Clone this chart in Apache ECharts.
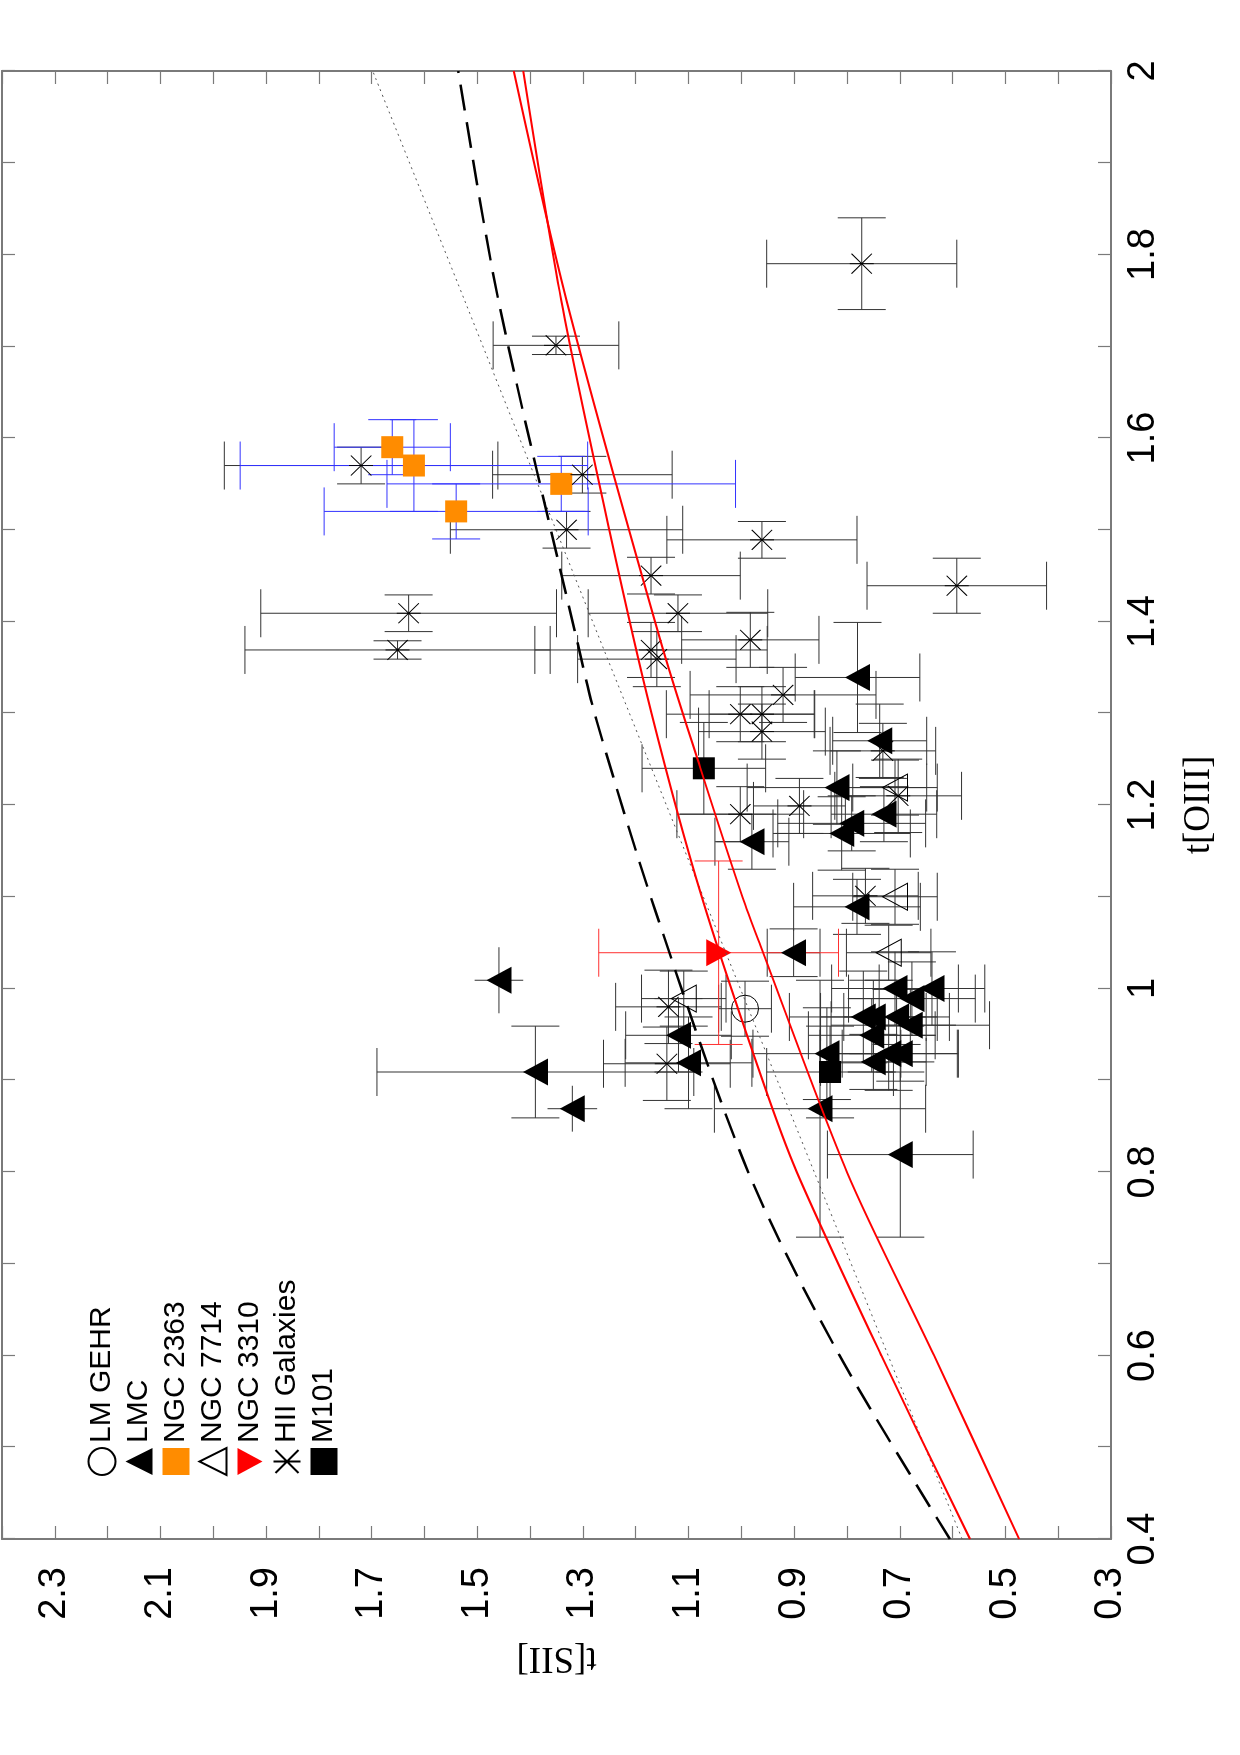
<!DOCTYPE html>
<html>
<head>
<meta charset="utf-8">
<title>t[SII] vs t[OIII]</title>
<script src="https://cdn.jsdelivr.net/npm/echarts@6.0.0/dist/echarts.min.js"></script>
<style>
    html, body { margin: 0; padding: 0; background: #fff; overflow: hidden; width: 1240px; height: 1755px; }
    /* chart is drawn landscape, then turned a quarter to the left */
    #chart { position: absolute; left: 0; top: 0; width: 1755px; height: 1240px;
             transform-origin: 0 0; transform: translate(0, 1755px) rotate(-90deg); }
</style>
</head>
<body>
<div id="chart"></div>
<script>
// tick values
let xTicks  = [0.4, 0.5, 0.6, 0.7, 0.8, 0.9, 1, 1.1, 1.2, 1.3, 1.4, 1.5, 1.6, 1.7, 1.8, 1.9, 2];
let xLabels = [0.4, 0.6, 0.8, 1, 1.2, 1.4, 1.6, 1.8, 2];
let yTicks  = [0.3, 0.4, 0.5, 0.6, 0.7, 0.8, 0.9, 1, 1.1, 1.2, 1.3, 1.4, 1.5, 1.6, 1.7, 1.8, 1.9, 2, 2.1, 2.2, 2.3, 2.4];
let yLabels = [0.3, 0.5, 0.7, 0.9, 1.1, 1.3, 1.5, 1.7, 1.9, 2.1, 2.3];

// points: [t[OIII], t[SII], err t[OIII], err t[SII]]
let lmGehr = [[0.978, 0.993, 0.03, 0.05]];
let lmc = [
    [1.339, 0.780, 0.06, 0.118], [1.270, 0.738, 0.04, 0.089], [1.219, 0.819, 0.04, 0.17],
    [1.190, 0.730, 0.03, 0.10],  [1.180, 0.791, 0.03, 0.14],  [1.169, 0.810, 0.04, 0.13],
    [1.160, 0.980, 0.03, 0.07],  [1.089, 0.781, 0.03, 0.12],  [1.039, 0.901, 0.026, 0.05],
    [1.000, 0.709, 0.04, 0.12],  [1.000, 0.639, 0.04, 0.10],  [0.989, 0.677, 0.04, 0.12],
    [0.969, 0.769, 0.05, 0.14],  [0.969, 0.750, 0.04, 0.10],  [0.969, 0.706, 0.03, 0.10],
    [0.960, 0.680, 0.04, 0.15],  [0.949, 0.753, 0.04, 0.12],  [0.929, 0.838, 0.05, 0.14],
    [0.920, 0.750, 0.03, 0.10],  [0.929, 0.721, 0.04, 0.13],  [0.929, 0.699, 0.03, 0.11],
    [0.869, 0.851, 0.14, 0.20],  [0.819, 0.699, 0.09, 0.138], [1.009, 1.459, 0.036, 0.046],
    [0.909, 1.390, 0.05, 0.30],  [0.869, 1.320, 0.025, 0.047], [0.949, 1.119, 0.04, 0.10],
    [0.919, 1.100, 0.05, 0.12]
];
let lmcNoCap = [23, 25];   // bars drawn without end caps
let ngc2363 = [[1.590, 1.661, 0.03, 0.110], [1.570, 1.620, 0.05, 0.329], [1.550, 1.341, 0.03, 0.330], [1.520, 1.540, 0.03, 0.25]];
let ngc7714 = [[1.219, 0.709, 0.03, 0.08], [1.100, 0.709, 0.03, 0.08], [1.039, 0.721, 0.03, 0.08], [0.989, 1.109, 0.03, 0.08]];
let ngc3310 = [[1.039, 1.043, 0.10, 0.227]];
let hii = [
    [1.790, 0.772, 0.05, 0.18],  [1.701, 1.351, 0.01, 0.119], [1.570, 1.720, 0.02, 0.259],
    [1.560, 1.301, 0.02, 0.17],  [1.500, 1.331, 0.02, 0.22],  [1.489, 0.961, 0.02, 0.18],
    [1.450, 1.171, 0.02, 0.169], [1.439, 0.592, 0.03, 0.17],  [1.409, 1.630, 0.02, 0.28],
    [1.409, 1.120, 0.02, 0.17],  [1.369, 1.651, 0.01, 0.289], [1.369, 1.171, 0.03, 0.22],
    [1.359, 1.160, 0.03, 0.15],  [1.380, 0.983, 0.03, 0.13],  [1.320, 0.921, 0.03, 0.176],
    [1.299, 1.002, 0.03, 0.14],  [1.299, 0.961, 0.03, 0.10],  [1.280, 0.961, 0.03, 0.12],
    [1.259, 0.732, 0.03, 0.10],  [1.210, 0.703, 0.04, 0.12],  [1.199, 0.890, 0.03, 0.087],
    [1.190, 1.002, 0.03, 0.12],  [1.101, 0.765, 0.03, 0.10],  [0.980, 1.138, 0.04, 0.10],
    [0.918, 1.141, 0.04, 0.12]
];
let m101 = [[1.240, 1.071, 0.05, 0.117], [0.909, 0.832, 0.05, 0.12]];

// model curves: [t[OIII], t[SII]]
let redUpper = [[0.4, 0.567], [0.6, 0.735], [0.8, 0.895], [0.9, 0.96], [1.1, 1.075], [1.3, 1.17], [1.5, 1.25], [1.75, 1.341], [2.0, 1.413]];
let redLower = [[0.4, 0.474], [0.6, 0.635], [0.8, 0.80], [1.047, 0.964], [1.1, 0.998], [1.241, 1.078], [1.379, 1.153], [1.75, 1.331], [2.0, 1.431]];
let dashed   = [[0.4, 0.605], [0.6, 0.814], [0.8, 0.987], [1.085, 1.163], [1.292, 1.274], [1.379, 1.311], [1.75, 1.46], [2.0, 1.536]];
let dotted   = [[0.4, 0.582], [0.8, 0.862], [1.379, 1.267], [1.75, 1.524], [2.0, 1.698]];

const CAP = 24;
const ASTERISK = 'path://M0,-1L0,1M-0.85,-0.85L0.85,0.85M-0.85,0.85L0.85,-0.85';
const DOWN_TRIANGLE = 'path://M0,0L2,0L1,1.85Z';
const SANS = 'Liberation Sans, Arial, sans-serif';
const SERIF = 'Liberation Serif, Times New Roman, serif';

// error bars with caps
function errorBars(data, color, noCap) {
    noCap = noCap || [];
    return {
        type: 'custom',
        data: data,
        z: 1,
        silent: true,
        encode: { x: 0, y: 1 },
        renderItem: function (params, api) {
            let x = api.value(0), y = api.value(1), ex = api.value(2), ey = api.value(3);
            let c  = api.coord([x, y]);
            let x0 = api.coord([x - ex, y])[0], x1 = api.coord([x + ex, y])[0];
            let y0 = api.coord([x, y - ey])[1], y1 = api.coord([x, y + ey])[1];
            let style = { stroke: color, lineWidth: 1, fill: null };
            let seg = (a, b, p, q) => ({ type: 'line', shape: { x1: a, y1: b, x2: p, y2: q }, style: style });
            let lines = [seg(x0, c[1], x1, c[1]), seg(c[0], y0, c[0], y1)];
            if (noCap.indexOf(params.dataIndex) < 0) {
                lines.push(
                    seg(x0, c[1] - CAP, x0, c[1] + CAP),
                    seg(x1, c[1] - CAP, x1, c[1] + CAP),
                    seg(c[0] - CAP, y0, c[0] + CAP, y0),
                    seg(c[0] - CAP, y1, c[0] + CAP, y1)
                );
            }
            return { type: 'group', children: lines };
        }
    };
}

function points(name, data, symbol, size, itemStyle) {
    return {
        name: name,
        type: 'scatter',
        data: data.map(d => [d[0], d[1]]),
        symbol: symbol,
        symbolSize: size,
        itemStyle: Object.assign({ opacity: 1 }, itemStyle),
        z: 3,
        silent: true
    };
}

function curve(data, color, width, type) {
    return {
        type: 'line',
        data: data,
        showSymbol: false,
        smooth: 0.3,
        z: 4,
        silent: true,
        lineStyle: { color: color, width: width, type: type }
    };
}

let openStyle = { color: 'rgba(0,0,0,0)', borderColor: '#000', borderWidth: 1 };
let axisGray = '#7a7a7a';

function frameAxis(pos, min, max, ticks) {
    return {
        type: 'value', position: pos, min: min, max: max,
        axisLine: { show: true, onZero: false, lineStyle: { color: axisGray, width: 2 } },
        axisTick: { show: true, inside: true, length: 13, customValues: ticks, lineStyle: { color: axisGray, width: 1.2 } },
        axisLabel: { show: false },
        splitLine: { show: false }
    };
}

let chart = echarts.init(document.getElementById('chart'), null, { renderer: 'canvas' });

let option = {
    animation: false,
    backgroundColor: '#fff',
    grid: { left: 216, right: 71, top: 2, bottom: 129 },
    legend: {
        orient: 'vertical',
        left: 274,
        top: 82,
        itemWidth: 27,
        itemHeight: 27,
        itemGap: 7,
        selectedMode: false,
        data: ['LM GEHR', 'LMC', 'NGC 2363', 'NGC 7714', 'NGC 3310', 'HII Galaxies', 'M101'],
        textStyle: { fontSize: 30, fontFamily: SANS, color: '#000', lineHeight: 27 }
    },
    xAxis: [
        {
            type: 'value', position: 'bottom', min: 0.4, max: 2,
            name: 't[OIII]', nameLocation: 'middle', nameGap: 70,
            nameTextStyle: { fontFamily: SERIF, fontSize: 37, color: '#000' },
            axisLine: { show: true, onZero: false, lineStyle: { color: axisGray, width: 2 } },
            axisTick: { show: true, inside: true, length: 13, customValues: xTicks, lineStyle: { color: axisGray, width: 1.2 } },
            axisLabel: { customValues: xLabels, margin: 14, fontSize: 38, fontFamily: SANS, color: '#000' },
            splitLine: { show: false }
        },
        frameAxis('top', 0.4, 2, xTicks)
    ],
    yAxis: [
        {
            type: 'value', position: 'left', min: 0.3, max: 2.4,
            name: 't[SII]', nameLocation: 'middle', nameGap: 100,
            nameTextStyle: { fontFamily: SERIF, fontSize: 37, color: '#000' },
            axisLine: { show: true, onZero: false, lineStyle: { color: axisGray, width: 2 } },
            axisTick: { show: true, inside: true, length: 13, customValues: yTicks, lineStyle: { color: axisGray, width: 1.2 } },
            axisLabel: { customValues: yLabels, margin: 28, fontSize: 38, fontFamily: SANS, color: '#000' },
            splitLine: { show: false }
        },
        frameAxis('right', 0.3, 2.4, yTicks)
    ],
    series: [
        // error bars
        errorBars(lmc, '#333', lmcNoCap),
        errorBars(hii, '#333'),
        errorBars(ngc7714, '#333'),
        errorBars(lmGehr, '#333'),
        errorBars(m101, '#333'),
        errorBars(ngc2363, '#3333ff'),
        errorBars(ngc3310, '#ff3030'),
        // markers
        points('LM GEHR', lmGehr, 'circle', 27, openStyle),
        points('LMC', lmc, 'triangle', [27, 25], { color: '#000' }),
        points('NGC 2363', ngc2363, 'rect', 22, { color: '#ff8c00' }),
        points('NGC 7714', ngc7714, 'triangle', [27, 25], openStyle),
        points('NGC 3310', ngc3310, DOWN_TRIANGLE, [27, 25], { color: '#ff0000' }),
        points('HII Galaxies', hii, ASTERISK, [20, 24], openStyle),
        points('M101', m101, 'rect', 22, { color: '#000' }),
        // model curves
        curve(dotted, '#555', 1, [2, 4]),
        curve(dashed, '#000', 2.5, [26, 12]),
        curve(redUpper, '#ff0000', 2, 'solid'),
        curve(redLower, '#ff0000', 2, 'solid')
    ]
};
chart.setOption(option);
</script>
</body>
</html>
